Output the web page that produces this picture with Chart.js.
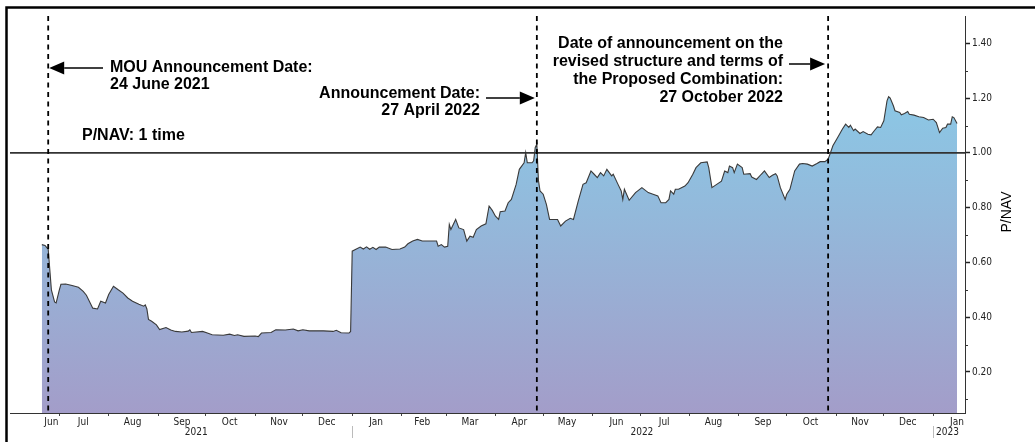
<!DOCTYPE html>
<html>
<head>
<meta charset="utf-8">
<title>P/NAV</title>
<script src="https://cdn.jsdelivr.net/npm/chart.js@4.4.0/dist/chart.umd.min.js"></script>
<style>
  html, body { margin: 0; padding: 0; background: #fff; }
  canvas { display: block; }
</style>
</head>
<body>
<canvas id="pnav-chart" width="1035" height="442"></canvas>
<script>
// ========================================
// P/NAV HISTORY
// ========================================

const tradeDates = [
  '2021-06-20', '2021-06-22', '2021-06-23', '2021-06-24', '2021-06-26', '2021-06-28', '2021-06-29',
  '2021-07-01', '2021-07-02', '2021-07-05', '2021-07-09', '2021-07-13', '2021-07-16', '2021-07-18',
  '2021-07-22', '2021-07-25', '2021-07-27', '2021-07-30', '2021-08-01', '2021-08-04', '2021-08-07',
  '2021-08-10', '2021-08-13', '2021-08-16', '2021-08-20', '2021-08-23', '2021-08-24', '2021-08-25',
  '2021-08-26', '2021-08-28', '2021-08-31', '2021-09-02', '2021-09-06', '2021-09-09', '2021-09-12',
  '2021-09-16', '2021-09-20', '2021-09-21', '2021-09-22', '2021-09-29', '2021-10-02', '2021-10-05',
  '2021-10-12', '2021-10-16', '2021-10-19', '2021-10-21', '2021-10-25', '2021-11-01', '2021-11-03',
  '2021-11-05', '2021-11-11', '2021-11-14', '2021-11-20', '2021-11-25', '2021-11-28', '2021-12-01',
  '2021-12-05', '2021-12-14', '2021-12-20', '2021-12-22', '2021-12-25', '2021-12-30', '2021-12-31',
  '2022-01-01', '2022-01-03', '2022-01-06', '2022-01-08', '2022-01-10', '2022-01-12', '2022-01-14',
  '2022-01-16', '2022-01-18', '2022-01-22', '2022-01-26', '2022-01-31', '2022-02-03', '2022-02-05',
  '2022-02-08', '2022-02-11', '2022-02-14', '2022-02-23', '2022-02-24', '2022-02-26', '2022-02-28',
  '2022-03-02', '2022-03-03', '2022-03-04', '2022-03-07', '2022-03-09', '2022-03-12', '2022-03-14',
  '2022-03-16', '2022-03-18', '2022-03-20', '2022-03-23', '2022-03-26', '2022-03-28', '2022-03-30',
  '2022-04-01', '2022-04-03', '2022-04-04', '2022-04-07', '2022-04-09', '2022-04-11', '2022-04-14',
  '2022-04-16', '2022-04-19', '2022-04-20', '2022-04-21', '2022-04-24', '2022-04-25', '2022-04-26',
  '2022-04-27', '2022-04-28', '2022-04-29', '2022-05-01', '2022-05-03', '2022-05-05', '2022-05-10',
  '2022-05-12', '2022-05-15', '2022-05-18', '2022-05-20', '2022-05-23', '2022-05-26', '2022-05-28',
  '2022-05-31', '2022-06-02', '2022-06-04', '2022-06-06', '2022-06-08', '2022-06-10', '2022-06-13',
  '2022-06-14', '2022-06-17', '2022-06-19', '2022-06-20', '2022-06-21', '2022-06-24', '2022-06-28',
  '2022-07-02', '2022-07-06', '2022-07-09', '2022-07-12', '2022-07-14', '2022-07-17', '2022-07-19',
  '2022-07-20', '2022-07-22', '2022-07-23', '2022-07-25', '2022-07-29', '2022-07-31', '2022-08-03',
  '2022-08-05', '2022-08-08', '2022-08-12', '2022-08-13', '2022-08-15', '2022-08-18', '2022-08-21',
  '2022-08-23', '2022-08-25', '2022-08-26', '2022-08-28', '2022-08-29', '2022-08-31', '2022-09-03',
  '2022-09-04', '2022-09-08', '2022-09-09', '2022-09-12', '2022-09-15', '2022-09-17', '2022-09-20',
  '2022-09-22', '2022-09-24', '2022-09-25', '2022-09-27', '2022-09-30', '2022-10-01', '2022-10-03',
  '2022-10-06', '2022-10-09', '2022-10-11', '2022-10-14', '2022-10-17', '2022-10-20', '2022-10-22',
  '2022-10-25', '2022-10-27', '2022-10-28', '2022-10-30', '2022-11-02', '2022-11-05', '2022-11-07',
  '2022-11-09', '2022-11-10', '2022-11-12', '2022-11-13', '2022-11-16', '2022-11-18', '2022-11-21',
  '2022-11-23', '2022-11-25', '2022-11-27', '2022-11-29', '2022-12-01', '2022-12-03', '2022-12-04',
  '2022-12-05', '2022-12-07', '2022-12-08', '2022-12-11', '2022-12-12', '2022-12-14', '2022-12-16',
  '2022-12-17', '2022-12-20', '2022-12-23', '2022-12-26', '2022-12-29', '2023-01-01', '2023-01-03',
  '2023-01-05', '2023-01-07', '2023-01-09', '2023-01-10', '2023-01-12', '2023-01-13', '2023-01-14',
  '2023-01-16'
];

const pnavValues = [
  0.665, 0.662, 0.655, 0.648, 0.500, 0.456, 0.452,
  0.500, 0.520, 0.521, 0.516, 0.509, 0.494, 0.480,
  0.433, 0.430, 0.458, 0.452, 0.483, 0.513, 0.500,
  0.488, 0.470, 0.458, 0.447, 0.440, 0.445, 0.430,
  0.392, 0.385, 0.372, 0.355, 0.362, 0.353, 0.348,
  0.346, 0.349, 0.354, 0.344, 0.348, 0.342, 0.336,
  0.334, 0.338, 0.333, 0.336, 0.330, 0.331, 0.329,
  0.342, 0.344, 0.354, 0.353, 0.357, 0.350, 0.354,
  0.350, 0.350, 0.348, 0.352, 0.343, 0.342, 0.348,
  0.641, 0.647, 0.656, 0.649, 0.657, 0.648, 0.655,
  0.647, 0.656, 0.656, 0.647, 0.649, 0.656, 0.668,
  0.678, 0.684, 0.678, 0.678, 0.659, 0.665, 0.656,
  0.659, 0.739, 0.720, 0.757, 0.726, 0.720, 0.678,
  0.696, 0.692, 0.720, 0.733, 0.741, 0.806, 0.790,
  0.769, 0.757, 0.785, 0.788, 0.818, 0.830, 0.885,
  0.940, 0.964, 1.001, 0.964, 0.964, 0.971, 1.020,
  1.032, 0.900, 0.861, 0.849, 0.812, 0.757, 0.757,
  0.733, 0.751, 0.761, 0.757, 0.824, 0.885, 0.891,
  0.934, 0.922, 0.910, 0.928, 0.916, 0.940, 0.916,
  0.922, 0.885, 0.861, 0.830, 0.867, 0.827, 0.855,
  0.873, 0.855, 0.849, 0.843, 0.818, 0.818, 0.830,
  0.861, 0.849, 0.867, 0.867, 0.879, 0.891, 0.922,
  0.946, 0.964, 0.967, 0.946, 0.873, 0.885, 0.897,
  0.934, 0.928, 0.952, 0.946, 0.928, 0.959, 0.946,
  0.922, 0.924, 0.912, 0.903, 0.922, 0.934, 0.910,
  0.918, 0.924, 0.916, 0.873, 0.830, 0.849, 0.867,
  0.934, 0.959, 0.961, 0.959, 0.952, 0.961, 0.968,
  0.968, 0.977, 0.993, 1.026, 1.056, 1.087, 1.105,
  1.093, 1.101, 1.081, 1.087, 1.071, 1.078, 1.068,
  1.066, 1.081, 1.095, 1.093, 1.117, 1.190, 1.205,
  1.200, 1.172, 1.154, 1.148, 1.139, 1.144, 1.151,
  1.141, 1.138, 1.132, 1.129, 1.120, 1.123, 1.111,
  1.074, 1.090, 1.093, 1.105, 1.105, 1.132, 1.129,
  1.107
];

// month tick marks sit on the 1st, month names sit mid-month
const monthStartDates = [
  '2021-07-01', '2021-08-01', '2021-09-01', '2021-10-01', '2021-11-01', '2021-12-01',
  '2022-01-01', '2022-02-01', '2022-03-01', '2022-04-01', '2022-05-01', '2022-06-01',
  '2022-07-01', '2022-08-01', '2022-09-01', '2022-10-01', '2022-11-01', '2022-12-01',
  '2023-01-01'
];
const monthLabels = [
  'Jun', 'Jul', 'Aug', 'Sep', 'Oct', 'Nov', 'Dec',
  'Jan', 'Feb', 'Mar', 'Apr', 'May', 'Jun', 'Jul', 'Aug', 'Sep', 'Oct', 'Nov', 'Dec',
  'Jan'
];
const monthLabelDates = [
  '2021-06-26', '2021-07-16', '2021-08-16', '2021-09-16', '2021-10-16', '2021-11-16', '2021-12-16',
  '2022-01-16', '2022-02-14', '2022-03-16', '2022-04-16', '2022-05-16', '2022-06-16', '2022-07-16',
  '2022-08-16', '2022-09-16', '2022-10-16', '2022-11-16', '2022-12-16',
  '2023-01-16'
];

const yearLabels = ['2021', '2022', '2023'];
const yearLabelDates = ['2021-09-25', '2022-07-02', '2023-01-10'];
const yearStartDates = ['2022-01-01', '2023-01-01'];

const yTickValues = [0.2, 0.4, 0.6, 0.8, 1.0, 1.2, 1.4];
const yMinorValues = [0.1, 0.3, 0.5, 0.7, 0.9, 1.1, 1.3];

const axisStartDate = '2021-05-31';
const axisEndDate = '2023-01-21';
const parityLevel = 1.0;

// Announcement markers: date and its text block
const eventDates = ['2021-06-24', '2022-04-27', '2022-10-27'];
const eventTexts = [
  ['MOU Announcement Date:', '24 June 2021'],
  ['Announcement Date:', '27 April 2022'],
  ['Date of announcement on the', 'revised structure and terms of', 'the Proposed Combination:', '27 October 2022']
];
const parityText = 'P/NAV: 1 time';

const TICK_FONT = '"DejaVu Sans Condensed", "DejaVu Sans", sans-serif';
const NOTE_FONT = 'bold 16px "Liberation Sans", Arial, sans-serif';

function dayNumber(iso) {
  const p = iso.split('-');
  return Date.UTC(+p[0], +p[1] - 1, +p[2]) / 86400000;
}

const points = tradeDates.map(function(d, i) {
  return { x: dayNumber(d), y: pnavValues[i] };
});

const monthLabelByDay = new Map();
monthLabelDates.forEach(function(d, i) { monthLabelByDay.set(dayNumber(d), monthLabels[i]); });

// Filled arrowhead + shaft
function drawArrow(ctx, fromX, toX, y) {
  const dir = toX > fromX ? 1 : -1;
  const headLen = 15;
  const headHalf = 6.5;
  ctx.save();
  ctx.strokeStyle = '#000';
  ctx.fillStyle = '#000';
  ctx.lineWidth = 1.5;
  ctx.beginPath();
  ctx.moveTo(fromX, y);
  ctx.lineTo(toX - dir * headLen, y);
  ctx.stroke();
  ctx.beginPath();
  ctx.moveTo(toX, y);
  ctx.lineTo(toX - dir * headLen, y - headHalf);
  ctx.lineTo(toX - dir * headLen, y + headHalf);
  ctx.closePath();
  ctx.fill();
  ctx.restore();
}

function drawLines(ctx, lines, x, firstBaseline, lineGap, align) {
  ctx.save();
  ctx.font = NOTE_FONT;
  ctx.fillStyle = '#000';
  ctx.textAlign = align;
  ctx.textBaseline = 'alphabetic';
  lines.forEach(function(t, i) {
    ctx.fillText(t, x, firstBaseline + i * lineGap);
  });
  ctx.restore();
}

// Reference line, event markers, notes, year row, frame
const overlayPlugin = {
  id: 'pnavOverlay',
  afterDatasetsDraw: function(chart) {
    const ctx = chart.ctx;
    const area = chart.chartArea;
    const xs = chart.scales.x;
    const ys = chart.scales.y;

    // P/NAV = 1 line
    const yOne = ys.getPixelForValue(parityLevel);
    ctx.save();
    ctx.strokeStyle = '#333';
    ctx.lineWidth = 1.6;
    ctx.beginPath();
    ctx.moveTo(area.left, yOne);
    ctx.lineTo(area.right, yOne);
    ctx.stroke();
    ctx.restore();

    // dashed event lines
    const eventX = eventDates.map(function(d) { return xs.getPixelForValue(dayNumber(d)); });
    ctx.save();
    ctx.strokeStyle = '#000';
    ctx.lineWidth = 1.8;
    ctx.setLineDash([5, 4.5]);
    eventX.forEach(function(x) {
      ctx.beginPath();
      ctx.moveTo(x, area.top);
      ctx.lineTo(x, area.bottom);
      ctx.stroke();
    });
    ctx.restore();

    // notes
    drawLines(ctx, eventTexts[0], 110, 72, 17, 'left');
    drawArrow(ctx, 103, eventX[0] + 1, 68);

    drawLines(ctx, eventTexts[1], 480, 98, 17, 'right');
    drawArrow(ctx, 486, eventX[1] - 2, 98);

    drawLines(ctx, eventTexts[2], 783, 48, 18, 'right');
    drawArrow(ctx, 789, eventX[2] - 3, 64);

    drawLines(ctx, [parityText], 82, 140, 17, 'left');
  },
  afterDraw: function(chart) {
    const ctx = chart.ctx;
    const area = chart.chartArea;
    const xs = chart.scales.x;
    const ys = chart.scales.y;

    // minor ticks on the value axis
    ctx.save();
    ctx.strokeStyle = '#333';
    ctx.lineWidth = 1;
    yMinorValues.forEach(function(v) {
      const y = Math.round(ys.getPixelForValue(v)) + 0.5;
      ctx.beginPath();
      ctx.moveTo(area.right, y);
      ctx.lineTo(area.right + 3, y);
      ctx.stroke();
    });
    ctx.restore();

    // year row under the months
    ctx.save();
    ctx.font = '10px ' + TICK_FONT;
    ctx.fillStyle = '#222';
    ctx.textAlign = 'center';
    ctx.textBaseline = 'middle';
    yearLabels.forEach(function(t, i) {
      ctx.fillText(t, xs.getPixelForValue(dayNumber(yearLabelDates[i])), 432);
    });
    ctx.strokeStyle = '#bbb';
    ctx.lineWidth = 1;
    yearStartDates.forEach(function(d) {
      const x = Math.round(xs.getPixelForValue(dayNumber(d))) + 0.5;
      ctx.beginPath();
      ctx.moveTo(x, 426);
      ctx.lineTo(x, 438);
      ctx.stroke();
    });
    ctx.restore();

    // axis title, reading upwards
    ctx.save();
    ctx.translate(1007, 212);
    ctx.rotate(-Math.PI / 2);
    ctx.font = '14px "Liberation Sans", Arial, sans-serif';
    ctx.fillStyle = '#000';
    ctx.textAlign = 'center';
    ctx.textBaseline = 'middle';
    ctx.fillText('P/NAV', 0, 0);
    ctx.restore();

    // outer frame (top and left edges)
    ctx.save();
    ctx.strokeStyle = '#000';
    ctx.lineWidth = 2.5;
    ctx.beginPath();
    ctx.moveTo(chart.width, 7.5);
    ctx.lineTo(6.5, 7.5);
    ctx.lineTo(6.5, chart.height);
    ctx.stroke();
    ctx.restore();
  }
};

const ctx = document.getElementById('pnav-chart').getContext('2d');

const pnavChart = new Chart(ctx, {
  type: 'line',
  data: {
    datasets: [{
      data: points,
      borderColor: '#3a3a3a',
      borderWidth: 1.1,
      pointRadius: 0,
      tension: 0,
      fill: 'start',
      backgroundColor: function(context) {
        const area = context.chart.chartArea;
        if (!area) return 'rgba(140, 190, 225, 1)';
        const g = context.chart.ctx.createLinearGradient(0, area.top, 0, area.bottom);
        g.addColorStop(0, '#86d1ec');
        g.addColorStop(0.5, '#93b9db');
        g.addColorStop(1, '#a39dc9');
        return g;
      }
    }]
  },
  options: {
    responsive: false,
    animation: false,
    layout: {
      padding: { left: 10, top: 16, right: 0, bottom: 0 }
    },
    plugins: {
      legend: { display: false },
      tooltip: { enabled: false }
    },
    scales: {
      x: {
        type: 'linear',
        min: dayNumber(axisStartDate),
        max: dayNumber(axisEndDate),
        afterBuildTicks: function(scale) {
          const values = monthStartDates.concat(monthLabelDates).map(dayNumber);
          values.sort(function(a, b) { return a - b; });
          scale.ticks = values.map(function(v) { return { value: v }; });
        },
        afterFit: function(scale) { scale.height = 29; },
        ticks: {
          autoSkip: false,
          maxRotation: 0,
          minRotation: 0,
          padding: 0,
          color: '#222',
          font: { family: TICK_FONT, size: 10 },
          callback: function(value) {
            return monthLabelByDay.has(value) ? monthLabelByDay.get(value) : '';
          }
        },
        grid: {
          drawOnChartArea: false,
          drawTicks: true,
          tickLength: 3,
          tickWidth: 1,
          tickColor: function(context) {
            if (context.tick && monthLabelByDay.has(context.tick.value)) return 'rgba(0,0,0,0)';
            return '#444';
          }
        },
        border: { display: true, color: '#333', width: 1 }
      },
      y: {
        position: 'right',
        min: 0.05,
        max: 1.5,
        afterBuildTicks: function(scale) {
          scale.ticks = yTickValues.map(function(v) { return { value: v }; });
        },
        afterFit: function(scale) { scale.width = 70; },
        ticks: {
          padding: 2,
          color: '#222',
          font: { family: TICK_FONT, size: 10 },
          callback: function(value) { return value.toFixed(2); }
        },
        grid: {
          drawOnChartArea: false,
          drawTicks: true,
          tickLength: 5,
          tickWidth: 1.5,
          tickColor: '#222'
        },
        border: { display: true, color: '#333', width: 1 }
      }
    }
  },
  plugins: [overlayPlugin]
});
</script>
</body>
</html>
